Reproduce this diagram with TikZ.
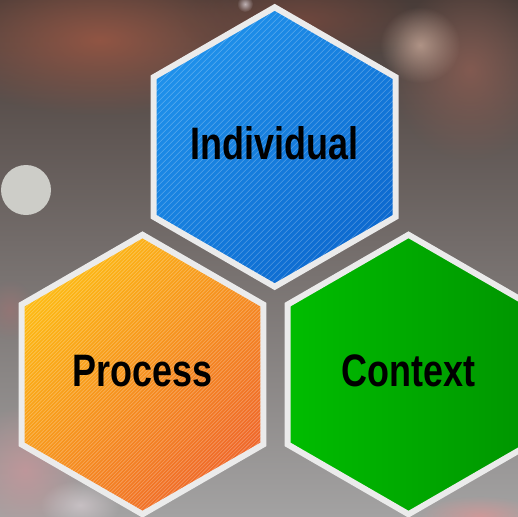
\documentclass[tikz,border=0pt]{standalone}
\usepackage{fontspec}
\newfontfamily\hexfont[FakeStretch=0.79]{Liberation Sans}
\usetikzlibrary{shapes.geometric}
\usetikzlibrary{fadings}
\definecolor{indtop}{HTML}{1F91EB}
\definecolor{indbot}{HTML}{0C69CF}
\definecolor{proctop}{HTML}{FDBB14}
\definecolor{procbot}{HTML}{EF672A}
\definecolor{ctxleft}{HTML}{00BD00}
\definecolor{ctxright}{HTML}{009500}
\definecolor{hexrim}{HTML}{EBEBEB}
\definecolor{bgtop}{RGB}{72,60,56}
\definecolor{bgmid}{RGB}{90,90,90}
\definecolor{bgbot}{RGB}{163,162,162}
% blurred spots of the photo
\definecolor{rust}{RGB}{145,85,68}
\definecolor{darkrust}{RGB}{115,72,62}
\definecolor{mauve}{RGB}{135,92,82}
\definecolor{glare}{RGB}{195,165,150}
\definecolor{pinkspot}{RGB}{205,150,155}
\definecolor{paleglow}{RGB}{215,205,210}
\definecolor{rosespot}{RGB}{215,150,150}
\definecolor{dullrose}{RGB}{160,115,115}
\definecolor{lampdot}{RGB}{205,205,200}
\tikzfading[name=softblob, inner color=transparent!0, outer color=transparent!100]
\tikzset{hex/.style={regular polygon, regular polygon sides=6, shape border rotate=30,
  minimum size=279.4pt, inner sep=0pt, draw=hexrim, line width=6pt, text depth=7pt,
  font=\hexfont\bfseries\fontsize{45.5}{50}\selectfont},
%thin white diagonal lines inside a hexagon
stripes/.style={path picture={\foreach \s in {-70,...,70}
  \draw[white, opacity=.28, line width=.6pt] ([shift={(\s*#1-150pt,-150pt)}]path picture bounding box.center) -- ++(300pt,300pt);}},
stripes/.default={6pt},
blob/.style={fill=#1, path fading=softblob}}

\begin{document}
\begin{tikzpicture}[x=1pt,y=-1pt]
\useasboundingbox (0,0) rectangle (518,516);
\clip (0,0) rectangle (518,516);
% blurred photo behind
\shade[top color=bgtop, middle color=bgmid, bottom color=bgbot] (0,0) rectangle (518,516);
\fill[blob=rust] (100,40) ellipse [x radius=170, y radius=75];
\fill[blob=darkrust, opacity=.9] (300,20) ellipse [x radius=120, y radius=45];
\fill[blob=mauve, opacity=.9] (470,70) ellipse [x radius=80, y radius=90];
\fill[blob=glare, opacity=.8] (420,45) ellipse [x radius=40, y radius=38];
\fill[blob=pinkspot, opacity=.7] (25,470) ellipse [x radius=60, y radius=65];
\fill[blob=paleglow, opacity=.7] (80,505) ellipse [x radius=40, y radius=25];
\fill[blob=rosespot, opacity=.8] (480,516) ellipse [x radius=60, y radius=20];
\fill[blob=dullrose, opacity=.6] (10,310) ellipse [x radius=25, y radius=30];
\fill[blob=paleglow, opacity=.8] (245,4) circle (8);
\fill[lampdot] (26,190) circle (25);

% the three hexagons
\node[hex, stripes=6pt, top color=indtop, bottom color=indbot, shading angle=45] (ind) at (274.7,147) {Individual};
\node[hex, stripes=3.6pt, top color=proctop, bottom color=procbot, shading angle=45] (proc) at (142.5,374.5) {Process};
\node[hex, left color=ctxleft, right color=ctxright] (ctx) at (408.5,374.5) {Context};

\end{tikzpicture}
\end{document}
